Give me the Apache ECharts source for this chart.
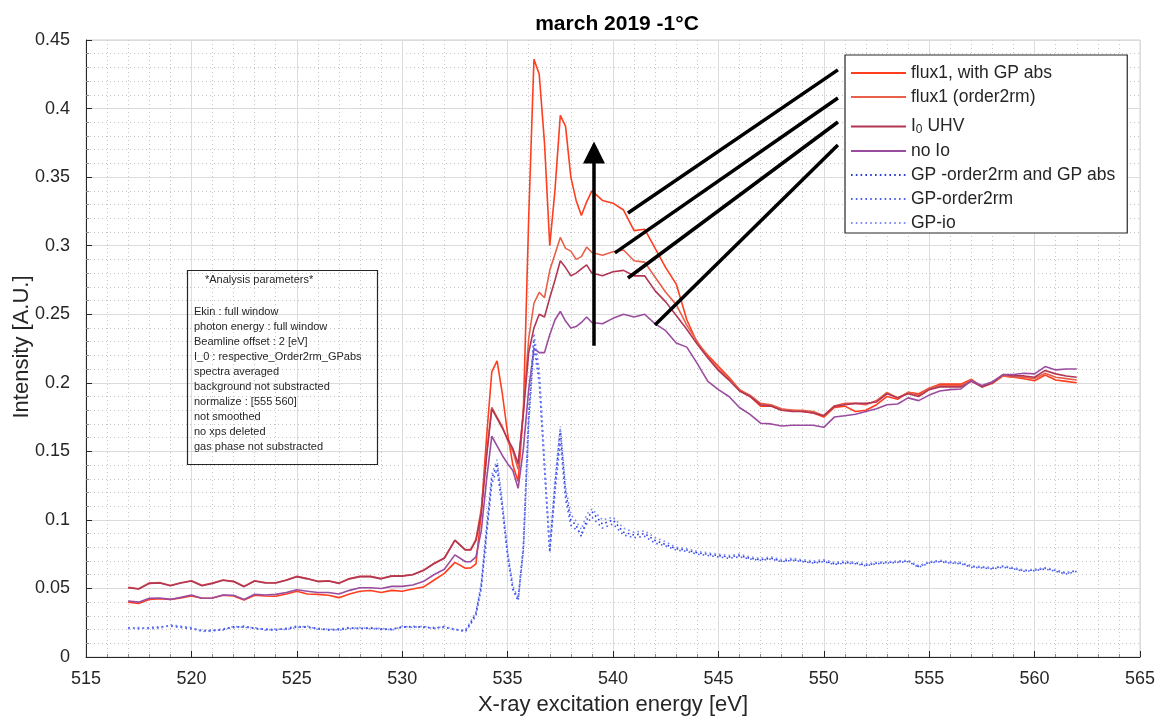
<!DOCTYPE html>
<html>
<head>
<meta charset="utf-8">
<title>march 2019 -1°C</title>
<script src="https://cdn.jsdelivr.net/npm/echarts@6/dist/echarts.min.js"></script>
<style>
  html, body { margin: 0; padding: 0; background: #ffffff; }
  #chart { width: 1168px; height: 722px; }
</style>
</head>
<body>
<div id="chart"></div>
<script>
// Photon energy grid [eV] (finer steps across the absorption edge)
const energy = [
  517, 517.5, 518, 518.5, 519, 519.5, 520, 520.5, 521, 521.5, 522, 522.5, 523, 523.5, 524, 524.5,
  525, 525.5, 526, 526.5, 527, 527.5, 528, 528.5, 529, 529.5, 530, 530.5, 531, 531.5, 532, 532.5, 533,
  533.25, 533.5, 533.75, 534, 534.25, 534.5, 534.75, 535, 535.25, 535.5, 535.75, 536,
  536.25, 536.5, 536.75, 537, 537.25, 537.5, 537.75, 538, 538.25, 538.5, 538.75, 539,
  539.5, 540, 540.5, 541, 541.5, 542, 542.5, 543, 543.5, 544, 544.5, 545, 545.5, 546, 546.5,
  547, 547.5, 548, 548.5, 549, 549.5, 550, 550.5, 551, 551.5, 552, 552.5, 553, 553.5, 554, 554.5,
  555, 555.5, 556, 556.5, 557, 557.5, 558, 558.5, 559, 559.5, 560, 560.5, 561, 561.5, 562
];

// flux1, with GP abs
const flux1GpAbs = [
  0.040, 0.039, 0.042, 0.0425, 0.042, 0.043, 0.0445, 0.0428, 0.043, 0.045, 0.0445, 0.0415, 0.045, 0.0445, 0.0443, 0.046,
  0.048, 0.046, 0.0457, 0.045, 0.0433, 0.046, 0.048, 0.0485, 0.047, 0.0486, 0.048, 0.0496, 0.051, 0.056, 0.061, 0.069, 0.0647,
  0.065, 0.068, 0.105, 0.160, 0.208, 0.216, 0.192, 0.163, 0.140, 0.128, 0.180, 0.320,
  0.436, 0.425, 0.375, 0.300, 0.341, 0.395, 0.387, 0.350, 0.333, 0.322, 0.332, 0.340,
  0.333, 0.331, 0.326, 0.311, 0.312, 0.298, 0.284, 0.272, 0.246, 0.229, 0.220, 0.212, 0.204, 0.195, 0.190,
  0.183, 0.183, 0.180, 0.180, 0.179, 0.178, 0.175, 0.182, 0.183, 0.179, 0.180, 0.184, 0.190, 0.188, 0.193, 0.192,
  0.196, 0.199, 0.199, 0.199, 0.2025, 0.197, 0.1996, 0.205, 0.204, 0.203, 0.2015, 0.2057, 0.202, 0.201, 0.200
];

// flux1 (order2rm)
const flux1Order2rm = [
  0.0508, 0.0498, 0.054, 0.0543, 0.0522, 0.0542, 0.0556, 0.0523, 0.054, 0.0562, 0.0552, 0.0516, 0.0556, 0.0543, 0.0542, 0.0562,
  0.0588, 0.0572, 0.0553, 0.0556, 0.054, 0.0572, 0.0588, 0.0588, 0.0572, 0.0592, 0.0592, 0.0602, 0.0632, 0.0682, 0.0722, 0.0852, 0.0782,
  0.0785, 0.086, 0.108, 0.148, 0.182, 0.175, 0.168, 0.158, 0.150, 0.137, 0.180, 0.232,
  0.258, 0.266, 0.262, 0.282, 0.294, 0.306, 0.298, 0.296, 0.290, 0.292, 0.299, 0.295,
  0.293, 0.2956, 0.2968, 0.289, 0.288, 0.277, 0.266, 0.257, 0.242, 0.230, 0.219, 0.210, 0.203, 0.195, 0.191,
  0.185, 0.184, 0.181, 0.180, 0.180, 0.179, 0.176, 0.183, 0.185, 0.185, 0.184, 0.187, 0.193, 0.189, 0.193, 0.191,
  0.196, 0.198, 0.198, 0.198, 0.202, 0.197, 0.200, 0.205, 0.204, 0.204, 0.203, 0.207, 0.204, 0.203, 0.202
];

// I0 UHV
const i0Uhv = [
  0.0505, 0.0496, 0.0537, 0.054, 0.052, 0.054, 0.0554, 0.052, 0.0537, 0.056, 0.055, 0.0513, 0.0554, 0.054, 0.054, 0.056,
  0.0586, 0.057, 0.055, 0.0554, 0.0537, 0.057, 0.0586, 0.0586, 0.057, 0.059, 0.059, 0.060, 0.063, 0.068, 0.072, 0.085, 0.078,
  0.078, 0.085, 0.105, 0.146, 0.181, 0.174, 0.167, 0.159, 0.152, 0.141, 0.178, 0.222,
  0.240, 0.250, 0.248, 0.262, 0.275, 0.289, 0.284, 0.278, 0.280, 0.283, 0.286, 0.280,
  0.278, 0.281, 0.282, 0.278, 0.278, 0.267, 0.259, 0.249, 0.239, 0.228, 0.218, 0.209, 0.202, 0.194, 0.190,
  0.184, 0.183, 0.180, 0.179, 0.179, 0.178, 0.176, 0.183, 0.184, 0.185, 0.185, 0.186, 0.192, 0.189, 0.192, 0.190,
  0.195, 0.197, 0.197, 0.197, 0.201, 0.197, 0.200, 0.206, 0.205, 0.205, 0.204, 0.209, 0.2065, 0.205, 0.204
];

// no Io
const noIo = [
  0.0408, 0.040, 0.0428, 0.043, 0.042, 0.0435, 0.0452, 0.0428, 0.043, 0.0452, 0.045, 0.042, 0.0457, 0.0452, 0.0457, 0.047,
  0.049, 0.048, 0.047, 0.047, 0.046, 0.0486, 0.0505, 0.0505, 0.050, 0.0515, 0.0515, 0.0525, 0.055, 0.060, 0.064, 0.0745, 0.0695,
  0.0695, 0.073, 0.092, 0.129, 0.161, 0.154, 0.147, 0.141, 0.136, 0.123, 0.152, 0.195,
  0.225, 0.222, 0.222, 0.235, 0.246, 0.252, 0.245, 0.240, 0.241, 0.244, 0.248, 0.244,
  0.243, 0.247, 0.250, 0.248, 0.250, 0.243, 0.238, 0.229, 0.226, 0.214, 0.201, 0.195, 0.190, 0.182, 0.177,
  0.1705, 0.170, 0.1685, 0.169, 0.169, 0.169, 0.1675, 0.175, 0.176, 0.177, 0.179, 0.181, 0.184, 0.1845, 0.189, 0.187,
  0.191, 0.194, 0.195, 0.1955, 0.2015, 0.198, 0.2008, 0.206, 0.206, 0.207, 0.2065, 0.2118, 0.2094, 0.210, 0.210
];

// GP -order2rm and GP abs
const gpOrder2rmAbs = [
  0.021, 0.021, 0.021, 0.0215, 0.023, 0.022, 0.021, 0.019, 0.019, 0.020, 0.022, 0.022, 0.021, 0.020, 0.020, 0.0205,
  0.022, 0.022, 0.0205, 0.020, 0.020, 0.021, 0.021, 0.021, 0.0205, 0.020, 0.022, 0.022, 0.022, 0.021, 0.022, 0.020, 0.019,
  0.025, 0.032, 0.052, 0.092, 0.130, 0.141, 0.110, 0.075, 0.050, 0.042, 0.080, 0.175,
  0.232, 0.205, 0.140, 0.078, 0.125, 0.166, 0.120, 0.100, 0.096, 0.088, 0.100, 0.106,
  0.097, 0.100, 0.091, 0.089, 0.090, 0.085, 0.082, 0.079, 0.078, 0.076, 0.075, 0.074, 0.073, 0.074, 0.072,
  0.071, 0.072, 0.070, 0.071, 0.070, 0.069, 0.070, 0.068, 0.069, 0.0685, 0.067, 0.0685, 0.069, 0.0695, 0.070, 0.066,
  0.069, 0.070, 0.069, 0.0685, 0.066, 0.0655, 0.0647, 0.066, 0.0647, 0.063, 0.0635, 0.0647, 0.063, 0.061, 0.063
];

// GP-order2rm
const gpOrder2rm = [
  0.0215, 0.0205, 0.0215, 0.022, 0.0225, 0.0215, 0.0205, 0.0195, 0.0195, 0.0205, 0.0215, 0.0225, 0.0205, 0.0205, 0.0195, 0.021,
  0.0225, 0.0215, 0.021, 0.0195, 0.0205, 0.0215, 0.0205, 0.0215, 0.020, 0.0205, 0.0215, 0.0225, 0.0215, 0.0215, 0.0215, 0.0205, 0.0185,
  0.024, 0.030, 0.050, 0.088, 0.126, 0.137, 0.108, 0.073, 0.049, 0.041, 0.078, 0.170,
  0.226, 0.200, 0.137, 0.076, 0.120, 0.158, 0.115, 0.096, 0.093, 0.090, 0.097, 0.102,
  0.094, 0.097, 0.089, 0.087, 0.088, 0.083, 0.081, 0.078, 0.077, 0.075, 0.074, 0.073, 0.072, 0.073, 0.0715,
  0.0705, 0.0715, 0.0695, 0.0705, 0.0695, 0.0685, 0.0695, 0.0675, 0.0685, 0.068, 0.0665, 0.068, 0.0685, 0.069, 0.0695, 0.0655,
  0.0685, 0.0695, 0.0685, 0.068, 0.0655, 0.065, 0.0642, 0.0655, 0.0642, 0.0625, 0.063, 0.0642, 0.0625, 0.0605, 0.0625
];

// GP-io
const gpIo = [
  0.0205, 0.0215, 0.0205, 0.021, 0.0235, 0.0225, 0.0215, 0.0185, 0.0195, 0.0195, 0.0225, 0.0215, 0.0215, 0.0195, 0.0205, 0.020,
  0.0215, 0.0225, 0.020, 0.0205, 0.0195, 0.0205, 0.0215, 0.0205, 0.021, 0.0195, 0.0225, 0.0215, 0.0225, 0.0205, 0.0225, 0.0195, 0.0195,
  0.026, 0.033, 0.054, 0.095, 0.133, 0.144, 0.113, 0.077, 0.052, 0.043, 0.083, 0.180,
  0.236, 0.210, 0.144, 0.081, 0.130, 0.168, 0.124, 0.104, 0.099, 0.093, 0.104, 0.108,
  0.100, 0.102, 0.094, 0.091, 0.092, 0.087, 0.084, 0.080, 0.079, 0.077, 0.076, 0.075, 0.074, 0.075, 0.073,
  0.072, 0.073, 0.071, 0.072, 0.071, 0.070, 0.071, 0.069, 0.070, 0.069, 0.068, 0.069, 0.0695, 0.070, 0.0705, 0.0665,
  0.0695, 0.0705, 0.0695, 0.069, 0.0665, 0.066, 0.0652, 0.0665, 0.0652, 0.0635, 0.064, 0.0652, 0.0635, 0.0615, 0.0635
];

const seriesNames = [
  'flux1, with GP abs', 'flux1 (order2rm)', 'I0 UHV', 'no Io',
  'GP -order2rm and GP abs', 'GP-order2rm', 'GP-io'
];

// Pointer lines from the legend towards each curve: [start, end] in [eV, intensity]
const pointerLines = [
  [[540.71, 0.3238], [550.67, 0.4282]],
  [[540.09, 0.2947], [550.67, 0.4077]],
  [[540.71, 0.2764], [550.67, 0.3902]],
  [[541.99, 0.2422], [550.67, 0.3735]]
];
// Vertical arrow showing the increasing trend
const trendArrow = [[539.1, 0.227], [539.1, 0.368]];

const analysisTitle = '*Analysis parameters*';
const analysisLines = [
  'Ekin : full window',
  'photon energy : full window',
  'Beamline offset : 2 [eV]',
  'I_0 : respective_Order2rm_GPabs',
  'spectra averaged',
  'background not substracted',
  'normalize : [555 560]',
  'not smoothed',
  'no xps deleted',
  'gas phase not substracted'
];

const FONT = '"Liberation Sans", Arial, Helvetica, sans-serif';
const INK = '#262626';

function pairs(values) {
  return energy.map((e, i) => [e, values[i]]);
}

const solid = (name, values, color) => ({
  name, type: 'line', data: pairs(values), symbol: 'none', showSymbol: false,
  lineStyle: { color, width: 1.6 }, itemStyle: { color },
  emphasis: { disabled: true }, animation: false
});
const dotted = (name, values, color) => ({
  name, type: 'line', data: pairs(values), symbol: 'none', showSymbol: false,
  lineStyle: { color, width: 1.6, type: [1.6, 3.2] }, itemStyle: { color },
  emphasis: { disabled: true }, animation: false
});

const chart = echarts.init(document.getElementById('chart'), null, { renderer: 'canvas' });

chart.setOption({
  backgroundColor: '#ffffff',
  animation: false,
  textStyle: { fontFamily: FONT },
  title: {
    text: 'march 2019 -1°C',
    left: 612, top: 9, textAlign: 'center',
    textStyle: { fontFamily: FONT, fontSize: 21, fontWeight: 'bold', color: '#000' }
  },
  grid: {
    left: 86, right: 28, top: 40, bottom: 65,
    outerBoundsMode: 'none',
    containLabel: false,
    show: true, borderColor: '#cfcfcf', borderWidth: 1, backgroundColor: 'transparent'
  },
  xAxis: {
    type: 'value', min: 515, max: 565, interval: 5,
    name: 'X-ray excitation energy [eV]', nameLocation: 'middle', nameGap: 37,
    nameTextStyle: { fontFamily: FONT, fontSize: 22, color: INK },
    axisLine: { show: true, onZero: false, lineStyle: { color: INK, width: 1 } },
    axisTick: { show: true, inside: true, length: 6, lineStyle: { color: INK } },
    minorTick: { show: true, splitNumber: 5, length: 3, lineStyle: { color: '#8a8a8a' } },
    axisLabel: { fontFamily: FONT, fontSize: 18, color: INK, margin: 13 },
    splitLine: { show: true, lineStyle: { color: '#dcdcdc', width: 1 } },
    minorSplitLine: { show: true, lineStyle: { color: '#c4c4c4', width: 1, type: [1, 3] } }
  },
  yAxis: {
    type: 'value', min: 0, max: 0.45, interval: 0.05,
    axisLine: { show: true, onZero: false, lineStyle: { color: INK, width: 1 } },
    axisTick: { show: true, inside: true, length: 6, lineStyle: { color: INK } },
    minorTick: { show: true, splitNumber: 5, length: 3, lineStyle: { color: '#8a8a8a' } },
    axisLabel: { fontFamily: FONT, fontSize: 18, color: INK, margin: 16 },
    splitLine: { show: true, lineStyle: { color: '#dcdcdc', width: 1 } },
    minorSplitLine: { show: true, lineStyle: { color: '#c4c4c4', width: 1, type: [1, 3] } }
  },
  legend: {
    data: seriesNames,
    orient: 'vertical',
    left: 845, top: 55,
    backgroundColor: '#ffffff',
    borderColor: INK, borderWidth: 1.2,
    padding: [9, 12, 1, 5],
    itemWidth: 55, itemHeight: 14, itemGap: 6,
    selectedMode: false,
    itemStyle: { opacity: 0 },
    formatter: n => (n === 'I0 UHV' ? '{n|I}{sub|0}{n| UHV}' : n),
    textStyle: {
      fontFamily: FONT, fontSize: 17.5, color: INK,
      rich: {
        n: { fontFamily: FONT, fontSize: 17.5, color: INK, lineHeight: 19, verticalAlign: 'top' },
        sub: { fontFamily: FONT, fontSize: 12, color: INK, lineHeight: 13, padding: [12, 0, 0, 0], verticalAlign: 'bottom' }
      }
    }
  },
  graphic: [
    {
      // y-axis title, rotated along the left edge of the plot
      type: 'text', x: 22, y: 347, rotation: Math.PI / 2, silent: true,
      style: {
        text: 'Intensity [A.U.]', font: '22px ' + FONT, fill: INK,
        textAlign: 'center', textVerticalAlign: 'middle'
      }
    },
    {
      type: 'rect', left: 185, top: 268, silent: true, z: 20,
      shape: { width: 190, height: 194 },
      style: { fill: 'none', stroke: INK, lineWidth: 1.2 }
    },
    {
      type: 'text', left: 205, top: 274, silent: true, z: 21,
      style: { text: analysisTitle, font: '11px ' + FONT, fill: INK }
    },
    {
      type: 'text', left: 194, top: 304, silent: true, z: 21,
      style: { text: analysisLines.join('\n'), font: '11px ' + FONT, lineHeight: 15, fill: INK }
    }
  ],
  series: [
    solid(seriesNames[0], flux1GpAbs, '#ff3d1f'),
    solid(seriesNames[1], flux1Order2rm, '#e9604a'),
    solid(seriesNames[2], i0Uhv, '#b23654'),
    solid(seriesNames[3], noIo, '#9a4c9e'),
    dotted(seriesNames[4], gpOrder2rmAbs, '#2a3bd8'),
    dotted(seriesNames[5], gpOrder2rm, '#4d5ff0'),
    dotted(seriesNames[6], gpIo, '#7f8df6'),
    {
      name: 'pointers', type: 'line', data: [], z: 10, animation: false,
      markLine: {
        silent: true, animation: false,
        symbol: ['none', 'none'],
        label: { show: false },
        emphasis: { disabled: true },
        lineStyle: { color: '#000000', width: 3.5, type: 'solid' },
        data: pointerLines.map(p => [{ coord: p[0] }, { coord: p[1] }])
      }
    },
    {
      name: 'trend', type: 'line', data: [], z: 10, animation: false,
      markLine: {
        silent: true, animation: false,
        symbol: ['none', 'triangle'], symbolSize: [22, 22],
        label: { show: false },
        emphasis: { disabled: true },
        lineStyle: { color: '#000000', width: 3.5, type: 'solid' },
        itemStyle: { color: '#000000' },
        data: [[{ coord: trendArrow[0] }, { coord: trendArrow[1] }]]
      }
    }
  ]
});
</script>
</body>
</html>
